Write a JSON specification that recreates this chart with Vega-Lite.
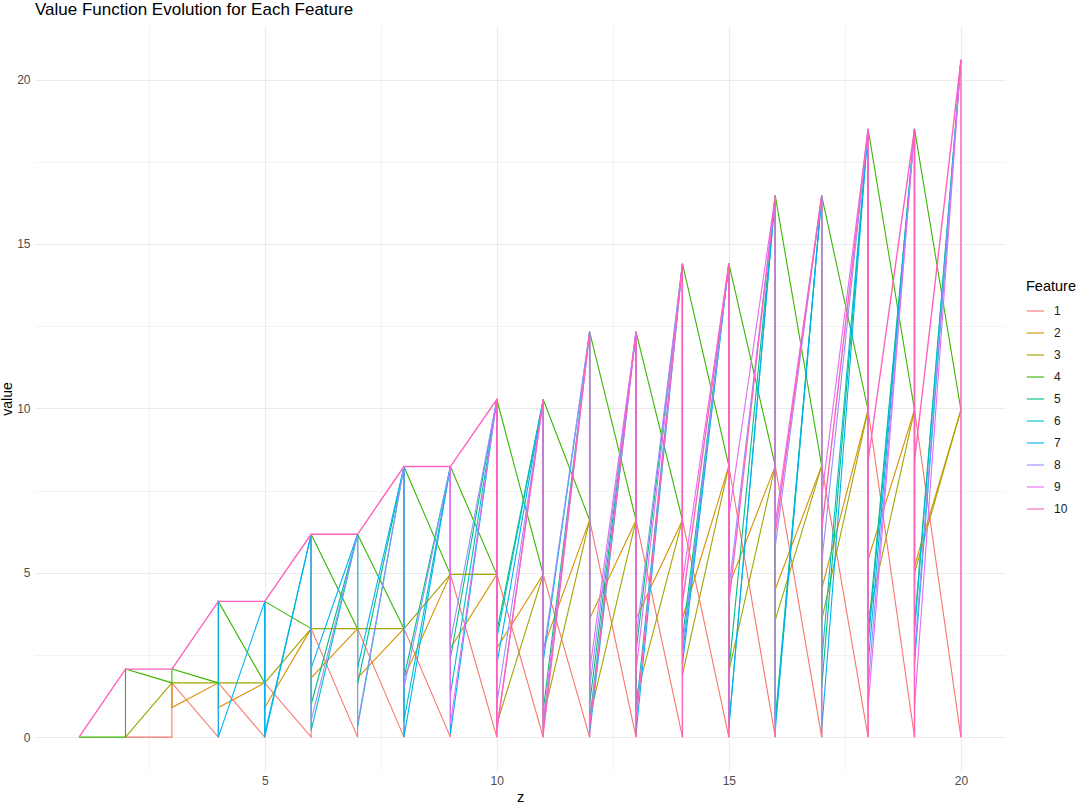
{
  "$schema": "https://vega.github.io/schema/vega-lite/v6.json",
  "width": 970,
  "height": 745,
  "autosize": {"type": "none"},
  "padding": {"left": 35, "top": 26, "right": 81, "bottom": 40},
  "background": "white",
  "config": {"view": {"stroke": null}, "font": "Liberation Sans"},
  "title": {"text": "Value Function Evolution for Each Feature", "anchor": "start", "frame": "group", "fontSize": 17, "fontWeight": "normal", "color": "#000000", "offset": 7},
  "data": {"values": [
    {"f":1,"z":2,"p":0,"q":0,"r":0},{"f":1,"z":3,"p":0,"q":0,"r":1.65},{"f":1,"z":4,"p":0,"q":0,"r":1.65},{"f":1,"z":5,"p":0,"q":0,"r":1.65},{"f":1,"z":6,"p":0,"q":0,"r":3.3},{"f":1,"z":7,"p":0,"q":0,"r":3.3},{"f":1,"z":8,"p":0,"q":0,"r":3.3},{"f":1,"z":9,"p":0,"q":0,"r":4.95},{"f":1,"z":10,"p":0,"q":0,"r":4.95},{"f":1,"z":11,"p":0,"q":0,"r":4.95},{"f":1,"z":12,"p":0,"q":0,"r":6.6},{"f":1,"z":13,"p":0,"q":0,"r":6.6},{"f":1,"z":14,"p":0,"q":0,"r":6.6},{"f":1,"z":15,"p":0,"q":0,"r":8.25},{"f":1,"z":16,"p":0,"q":0,"r":8.25},{"f":1,"z":17,"p":0,"q":0,"r":8.25},{"f":1,"z":18,"p":0,"q":0,"r":9.95},{"f":1,"z":19,"p":0,"q":0,"r":9.95},{"f":1,"z":20,"p":0,"q":0,"r":0},
    {"f":2,"z":3,"p":1.65,"q":1.65,"r":0.9},{"f":2,"z":4,"p":1.65,"q":1.65,"r":0.9},{"f":2,"z":5,"p":1.65,"q":1.65,"r":0.9},{"f":2,"z":6,"p":3.3,"q":3.3,"r":1.8},{"f":2,"z":7,"p":3.3,"q":3.3,"r":1.8},{"f":2,"z":8,"p":3.3,"q":3.3,"r":1.8},{"f":2,"z":9,"p":4.95,"q":4.95,"r":2.7},{"f":2,"z":10,"p":4.95,"q":4.95,"r":2.7},{"f":2,"z":11,"p":4.95,"q":4.95,"r":2.7},{"f":2,"z":12,"p":6.6,"q":6.6,"r":3.6},{"f":2,"z":13,"p":6.6,"q":6.6,"r":3.6},{"f":2,"z":14,"p":6.6,"q":6.6,"r":3.6},{"f":2,"z":15,"p":8.25,"q":8.25,"r":4.6},{"f":2,"z":16,"p":8.25,"q":8.25,"r":4.5},{"f":2,"z":17,"p":8.25,"q":8.25,"r":4.5},{"f":2,"z":18,"p":9.95,"q":9.95,"r":5.4},{"f":2,"z":19,"p":9.95,"q":9.95,"r":5.2},{"f":2,"z":20,"p":9.95,"q":9.95,"r":9.95},
    {"f":3,"z":2,"p":0,"q":0,"r":0},{"f":3,"z":3,"p":1.65,"q":1.65,"r":1.65},{"f":3,"z":4,"p":1.65,"q":1.65,"r":1.65},{"f":3,"z":5,"p":1.65,"q":1.65,"r":1.65},{"f":3,"z":6,"p":3.3,"q":3.3,"r":3.3},{"f":3,"z":7,"p":3.3,"q":3.3,"r":3.3},{"f":3,"z":8,"p":3.3,"q":3.3,"r":3.3},{"f":3,"z":9,"p":4.95,"q":4.95,"r":4.95},{"f":3,"z":10,"p":4.95,"q":4.95,"r":0.4},{"f":3,"z":11,"p":4.95,"q":4.95,"r":0.6},{"f":3,"z":12,"p":6.6,"q":6.6,"r":0.6},{"f":3,"z":13,"p":6.6,"q":6.6,"r":1.2},{"f":3,"z":14,"p":6.6,"q":6.6,"r":1.9},{"f":3,"z":15,"p":8.25,"q":8.25,"r":2.0},{"f":3,"z":16,"p":8.25,"q":8.25,"r":3.56},{"f":3,"z":17,"p":8.25,"q":8.25,"r":3.56},{"f":3,"z":18,"p":9.95,"q":9.95,"r":3.6},{"f":3,"z":19,"p":9.95,"q":9.95,"r":5.0},{"f":3,"z":20,"p":9.95,"q":9.95,"r":9.95},
    {"f":4,"z":1,"p":0,"q":0,"r":0},{"f":4,"z":2,"p":0,"q":0,"r":2.07},{"f":4,"z":3,"p":1.65,"q":1.65,"r":2.07},{"f":4,"z":4,"p":1.65,"q":1.65,"r":4.13},{"f":4,"z":5,"p":1.65,"q":1.65,"r":4.13},{"f":4,"z":6,"p":3.3,"q":3.3,"r":6.17},{"f":4,"z":7,"p":3.3,"q":3.3,"r":6.17},{"f":4,"z":8,"p":3.3,"q":3.3,"r":8.23},{"f":4,"z":9,"p":4.95,"q":4.95,"r":8.23},{"f":4,"z":10,"p":4.95,"q":4.95,"r":10.27},{"f":4,"z":11,"p":4.95,"q":4.95,"r":10.27},{"f":4,"z":12,"p":6.6,"q":6.6,"r":12.33},{"f":4,"z":13,"p":6.6,"q":6.6,"r":12.33},{"f":4,"z":14,"p":6.6,"q":6.6,"r":14.4},{"f":4,"z":15,"p":8.25,"q":8.25,"r":14.4},{"f":4,"z":16,"p":8.25,"q":8.25,"r":16.47},{"f":4,"z":17,"p":8.25,"q":8.25,"r":16.47},{"f":4,"z":18,"p":9.95,"q":9.95,"r":18.5},{"f":4,"z":19,"p":9.95,"q":9.95,"r":18.5},{"f":4,"z":20,"p":9.95,"q":9.95,"r":9.95},
    {"f":5,"z":6,"p":6.17,"q":6.17,"r":1.0},{"f":5,"z":7,"p":6.17,"q":6.17,"r":1.6},{"f":5,"z":8,"p":8.23,"q":8.23,"r":1.8},{"f":5,"z":9,"p":8.23,"q":8.23,"r":2.4},{"f":5,"z":10,"p":10.27,"q":10.27,"r":3.2},{"f":5,"z":11,"p":10.27,"q":10.27,"r":0.8},{"f":5,"z":12,"p":12.33,"q":12.33,"r":1.0},{"f":5,"z":13,"p":12.33,"q":12.33,"r":2.6},{"f":5,"z":14,"p":14.4,"q":14.4,"r":3.0},{"f":5,"z":15,"p":14.4,"q":14.4,"r":2.0},{"f":5,"z":16,"p":16.47,"q":16.47,"r":0.5},{"f":5,"z":17,"p":16.47,"q":16.47,"r":1.5},{"f":5,"z":18,"p":18.5,"q":18.5,"r":3.1},{"f":5,"z":19,"p":18.5,"q":18.5,"r":3.4},{"f":5,"z":20,"p":20.6,"q":20.6,"r":20.6},
    {"f":6,"z":5,"p":4.13,"q":4.13,"r":0.1},{"f":6,"z":6,"p":6.17,"q":6.17,"r":0.2},{"f":6,"z":7,"p":6.17,"q":6.17,"r":0.3},{"f":6,"z":8,"p":8.23,"q":8.23,"r":0.5},{"f":6,"z":9,"p":8.23,"q":8.23,"r":1.3},{"f":6,"z":10,"p":10.27,"q":10.27,"r":3.0},{"f":6,"z":11,"p":10.27,"q":10.27,"r":0.2},{"f":6,"z":12,"p":12.33,"q":12.33,"r":0.5},{"f":6,"z":13,"p":12.33,"q":12.33,"r":0.8},{"f":6,"z":14,"p":14.4,"q":14.4,"r":2.5},{"f":6,"z":15,"p":14.4,"q":14.4,"r":0.3},{"f":6,"z":16,"p":16.47,"q":16.47,"r":0.4},{"f":6,"z":17,"p":16.47,"q":16.47,"r":2.3},{"f":6,"z":18,"p":18.5,"q":18.5,"r":2.8},{"f":6,"z":19,"p":18.5,"q":18.5,"r":3.2},{"f":6,"z":20,"p":20.6,"q":20.6,"r":20.6},
    {"f":7,"z":4,"p":4.13,"q":4.13,"r":0},{"f":7,"z":5,"p":4.13,"q":4.13,"r":0},{"f":7,"z":6,"p":6.17,"q":6.17,"r":2.1},{"f":7,"z":7,"p":6.17,"q":6.17,"r":2.1},{"f":7,"z":8,"p":8.23,"q":8.23,"r":0},{"f":7,"z":9,"p":8.23,"q":8.23,"r":0.1},{"f":7,"z":10,"p":10.27,"q":10.27,"r":2.2},{"f":7,"z":11,"p":10.27,"q":10.27,"r":2.3},{"f":7,"z":12,"p":12.33,"q":12.33,"r":0.1},{"f":7,"z":13,"p":12.33,"q":12.33,"r":0.1},{"f":7,"z":14,"p":14.4,"q":14.4,"r":2.2},{"f":7,"z":15,"p":14.4,"q":14.4,"r":0.3},{"f":7,"z":16,"p":16.47,"q":16.47,"r":0.2},{"f":7,"z":17,"p":16.47,"q":16.47,"r":0.2},{"f":7,"z":18,"p":18.5,"q":18.5,"r":2.2},{"f":7,"z":19,"p":18.5,"q":18.5,"r":2.2},{"f":7,"z":20,"p":20.6,"q":20.6,"r":20.6},
    {"f":8,"z":6,"p":6.17,"q":6.17,"r":0.5},{"f":8,"z":7,"p":6.17,"q":6.17,"r":0.4},{"f":8,"z":8,"p":8.23,"q":8.23,"r":1.5},{"f":8,"z":9,"p":8.23,"q":8.23,"r":2.9},{"f":8,"z":10,"p":10.27,"q":10.27,"r":1.0},{"f":8,"z":11,"p":10.27,"q":10.27,"r":2.5},{"f":8,"z":12,"p":12.33,"q":12.33,"r":1.5},{"f":8,"z":13,"p":12.33,"q":12.33,"r":3.0},{"f":8,"z":14,"p":14.4,"q":14.4,"r":2.7},{"f":8,"z":15,"p":14.4,"q":14.4,"r":4.5},{"f":8,"z":16,"p":16.47,"q":16.47,"r":5.8},{"f":8,"z":17,"p":16.47,"q":16.47,"r":5.3},{"f":8,"z":18,"p":18.5,"q":18.5,"r":1.5},{"f":8,"z":19,"p":18.5,"q":18.5,"r":2.5},{"f":8,"z":20,"p":20.6,"q":20.6,"r":20.6},
    {"f":9,"z":9,"p":8.23,"q":8.23,"r":0.4},{"f":9,"z":10,"p":10.27,"q":10.27,"r":0.2},{"f":9,"z":11,"p":10.27,"q":10.27,"r":0.5},{"f":9,"z":12,"p":12.33,"q":12.33,"r":2.0},{"f":9,"z":13,"p":12.33,"q":12.33,"r":2.0},{"f":9,"z":14,"p":14.4,"q":14.4,"r":4.7},{"f":9,"z":15,"p":14.4,"q":14.4,"r":6.7},{"f":9,"z":16,"p":16.47,"q":16.47,"r":6.5},{"f":9,"z":17,"p":16.47,"q":16.47,"r":7.3},{"f":9,"z":18,"p":18.5,"q":18.5,"r":0.9},{"f":9,"z":19,"p":18.5,"q":18.5,"r":0.9},{"f":9,"z":20,"p":20.6,"q":20.6,"r":20.6},
    {"f":10,"z":1,"p":0,"q":0,"r":0},{"f":10,"z":2,"p":2.07,"q":2.07,"r":2.07},{"f":10,"z":3,"p":2.07,"q":2.07,"r":2.07},{"f":10,"z":4,"p":4.13,"q":4.13,"r":4.13},{"f":10,"z":5,"p":4.13,"q":4.13,"r":4.13},{"f":10,"z":6,"p":6.17,"q":6.17,"r":6.17},{"f":10,"z":7,"p":6.17,"q":6.17,"r":6.17},{"f":10,"z":8,"p":8.23,"q":8.23,"r":8.23},{"f":10,"z":9,"p":8.23,"q":8.23,"r":8.23},{"f":10,"z":10,"p":10.27,"q":0,"r":0.2},{"f":10,"z":11,"p":10.27,"q":0,"r":0.1},{"f":10,"z":12,"p":12.33,"q":0,"r":0.3},{"f":10,"z":13,"p":12.33,"q":0,"r":0.5},{"f":10,"z":14,"p":14.4,"q":0,"r":4.1},{"f":10,"z":15,"p":14.4,"q":0,"r":4.1},{"f":10,"z":16,"p":16.47,"q":0,"r":6.2},{"f":10,"z":17,"p":16.47,"q":0,"r":6.3},{"f":10,"z":18,"p":18.5,"q":0,"r":8.4},{"f":10,"z":19,"p":18.5,"q":0,"r":8.4},{"f":10,"z":20,"p":20.6,"q":0,"r":0}
  ]},
  "transform": [{"fold": ["p", "q", "r"], "as": ["k", "value"]}],
  "encoding": {
    "x": {
      "field": "z", "type": "quantitative",
      "scale": {"domain": [0.05, 20.95], "nice": false, "zero": false},
      "axis": {
        "values": [2.5, 5, 7.5, 10, 12.5, 15, 17.5, 20],
        "labelExpr": "datum.value % 5 === 0 ? format(datum.value, 'd') : ''",
        "domain": false, "ticks": false,
        "gridColor": "#ebebeb",
        "gridWidth": {"condition": {"test": "datum.value % 5 === 0", "value": 1.1}, "value": 0.6},
        "labelColor": "#4d4d4d", "labelFontSize": 12, "labelPadding": 4,
        "title": "z", "titleFontSize": 14.5, "titleFontWeight": "normal", "titleColor": "#000000", "titlePadding": 4
      }
    },
    "y": {
      "field": "value", "type": "quantitative",
      "scale": {"domain": [-1.03, 21.63], "nice": false, "zero": false},
      "axis": {
        "values": [0, 2.5, 5, 7.5, 10, 12.5, 15, 17.5, 20],
        "labelExpr": "datum.value % 5 === 0 ? format(datum.value, 'd') : ''",
        "domain": false, "ticks": false,
        "gridColor": "#ebebeb",
        "gridWidth": {"condition": {"test": "datum.value % 5 === 0", "value": 1.1}, "value": 0.6},
        "labelColor": "#4d4d4d", "labelFontSize": 12, "labelPadding": 5,
        "title": "value", "titleFontSize": 14, "titleFontWeight": "normal", "titleColor": "#000000", "titlePadding": 2
      }
    },
    "color": {
      "field": "f", "type": "nominal", "title": "Feature",
      "scale": {"domain": [1, 2, 3, 4, 5, 6, 7, 8, 9, 10], "range": ["#F8766D", "#D89000", "#A3A500", "#39B600", "#00BF7D", "#00BFC4", "#00B0F6", "#9590FF", "#E76BF3", "#FF62BC"]},
      "legend": {
        "orient": "none", "legendX": 991, "legendY": 254, "padding": 0,
        "titleFontSize": 14.5, "titleFontWeight": "normal", "titleColor": "#000000", "titlePadding": 7,
        "labelFontSize": 12, "labelColor": "#1a1a1a", "labelOffset": 9,
        "symbolType": "stroke", "symbolSize": 300, "symbolStrokeWidth": 1.3, "symbolOpacity": 0.85,
        "rowPadding": 6
      }
    },
    "order": [{"field": "z", "type": "quantitative"}, {"field": "k", "type": "ordinal"}]
  },
  "layer": [
    {"transform": [{"filter": "datum.f < 10"}], "mark": {"type": "line", "strokeWidth": 1.1, "opacity": 1}},
    {"transform": [{"filter": "datum.f == 10"}], "mark": {"type": "line", "strokeWidth": 1.4, "opacity": 1}}
  ]
}
